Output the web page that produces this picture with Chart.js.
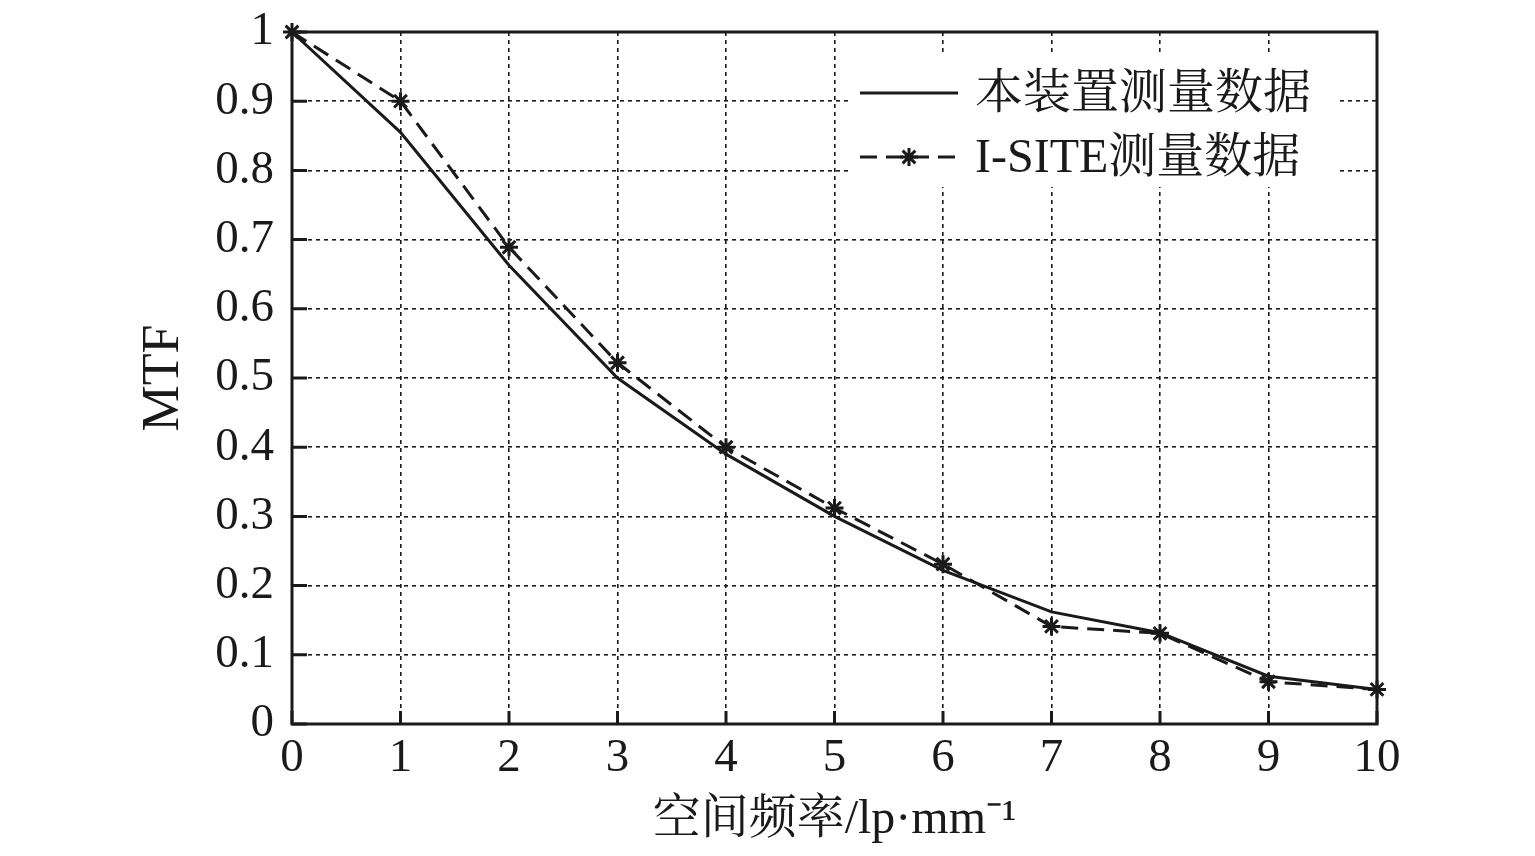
<!DOCTYPE html>
<html>
<head>
<meta charset="utf-8">
<script src="https://cdn.jsdelivr.net/npm/chart.js@4/dist/chart.umd.min.js"></script>
<style>
html, body { margin: 0; background: #fff; }
#wrap { width: 1535px; height: 856px; }
</style>
</head>
<body>
<div id="wrap"><canvas id="mtfChart"></canvas></div>
<script>
// data
var freqs = [0, 1, 2, 3, 4, 5, 6, 7, 8, 9, 10];
var deviceMtf = [1.0, 0.855, 0.663, 0.50, 0.39, 0.30, 0.222, 0.162, 0.132, 0.069, 0.05];
var isiteMtf = [1.0, 0.90, 0.689, 0.522, 0.40, 0.312, 0.231, 0.141, 0.131, 0.061, 0.05];
var seriesNames = ['本装置测量数据', 'I-SITE测量数据'];
var xTitle = '空间频率/lp·mm⁻¹';
var yTitle = 'MTF';

var serif = '"Liberation Serif", "Times New Roman", "Noto Serif CJK SC", "Noto Sans CJK SC", serif';
var ink = '#1a1a1a';

Chart.defaults.font.family = serif;
Chart.defaults.color = ink;

function toPoints(ys) {
    return freqs.map(function (f, i) { return { x: f, y: ys[i] }; });
}

// box frame + inward tick marks on left and bottom
var framePlugin = {
    id: 'frame',
    afterDatasetsDraw: function (chart) {
        var ctx = chart.ctx, a = chart.chartArea;
        var xs = chart.scales.x, ys = chart.scales.y;
        ctx.save();
        ctx.strokeStyle = ink;
        ctx.lineWidth = 3;
        ctx.setLineDash([]);
        ctx.strokeRect(a.left, a.top, a.right - a.left, a.bottom - a.top);
        ctx.beginPath();
        ys.ticks.forEach(function (t) {
            var py = ys.getPixelForValue(t.value);
            ctx.moveTo(a.left, py);
            ctx.lineTo(a.left + 15, py);
        });
        xs.ticks.forEach(function (t) {
            var px = xs.getPixelForValue(t.value);
            ctx.moveTo(px, a.bottom);
            ctx.lineTo(px, a.bottom - 13);
        });
        ctx.stroke();
        ctx.restore();
    }
};

// legend drawn inside the plot, top right, on a white box
var legendPlugin = {
    id: 'innerLegend',
    afterDraw: function (chart) {
        var ctx = chart.ctx, a = chart.chartArea;
        var boxL = a.right - 525, boxT = a.top + 23;
        ctx.save();
        ctx.fillStyle = '#fff';
        ctx.fillRect(boxL, boxT, 488, 132);
        chart.data.datasets.forEach(function (ds, i) {
            var cy = boxT + 38 + i * 64;
            var x0 = boxL + 8, x1 = boxL + 106;
            ctx.strokeStyle = ds.borderColor;
            ctx.lineWidth = ds.borderWidth;
            ctx.setLineDash(ds.borderDash || []);
            ctx.beginPath();
            ctx.moveTo(x0, cy);
            ctx.lineTo(x1, cy);
            ctx.stroke();
            ctx.setLineDash([]);
            if (ds.pointRadius > 0) {
                Chart.helpers.drawPoint(ctx, {
                    pointStyle: ds.pointStyle,
                    radius: ds.pointRadius,
                    borderWidth: ds.pointBorderWidth,
                    rotation: 0
                }, (x0 + x1) / 2, cy);
            }
            ctx.fillStyle = ink;
            ctx.font = '48px ' + serif;
            ctx.textBaseline = 'middle';
            ctx.textAlign = 'left';
            ctx.fillText(seriesNames[i], boxL + 123, cy + 2);
        });
        ctx.restore();
    }
};

var mtfContext = document.getElementById('mtfChart').getContext('2d');
var mtfChart = new Chart(mtfContext, {
    type: 'line',
    data: {
        datasets: [{
            label: seriesNames[0],
            data: toPoints(deviceMtf),
            borderColor: ink,
            borderWidth: 3,
            pointRadius: 0,
            pointHoverRadius: 0,
            tension: 0,
            clip: false
        }, {
            label: seriesNames[1],
            data: toPoints(isiteMtf),
            borderColor: ink,
            borderWidth: 3,
            borderDash: [17, 9],
            pointStyle: 'star',
            pointRadius: 9,
            pointHoverRadius: 9,
            pointBorderWidth: 3,
            pointBorderColor: ink,
            pointBackgroundColor: ink,
            tension: 0,
            clip: false
        }]
    },
    options: {
        responsive: true,
        maintainAspectRatio: false,
        animation: false,
        events: [],
        layout: {
            padding: { left: 133, right: 158, top: 32, bottom: 7 }
        },
        plugins: {
            legend: { display: false },
            tooltip: { enabled: false }
        },
        scales: {
            x: {
                type: 'linear',
                min: 0,
                max: 10,
                ticks: { stepSize: 1, padding: 6, font: { size: 47 }, color: ink },
                grid: { color: ink, lineWidth: 1.6, drawTicks: false },
                border: { display: false, dash: [4, 4] },
                title: { display: true, text: xTitle, font: { size: 48 }, padding: 0, color: ink },
                afterFit: function (scale) {
                    scale.height = 125;
                    scale.paddingLeft = 0;
                    scale.paddingRight = 0;
                }
            },
            y: {
                min: 0,
                max: 1,
                ticks: {
                    stepSize: 0.1,
                    padding: 18,
                    font: { size: 47 },
                    color: ink,
                    callback: function (v) {
                        var r = Math.round(v * 10) / 10;
                        return (r === 0 || r === 1) ? String(r) : r.toFixed(1);
                    }
                },
                grid: { color: ink, lineWidth: 1.6, drawTicks: false },
                border: { display: false, dash: [4, 4] },
                title: { display: true, text: yTitle, font: { size: 52 }, padding: 0, color: ink },
                afterFit: function (scale) {
                    scale.width = 159;
                    scale.paddingTop = 0;
                    scale.paddingBottom = 0;
                }
            }
        }
    },
    plugins: [framePlugin, legendPlugin]
}); //end mtfChart
</script>
</body>
</html>
